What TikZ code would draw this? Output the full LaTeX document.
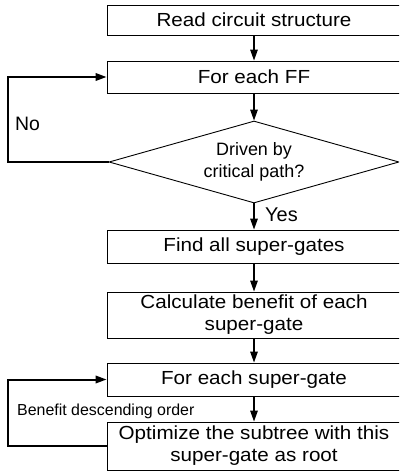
\documentclass[tikz,border=0pt]{standalone}
\usepackage{fontspec}
\setmainfont{Liberation Sans}
\newfontfamily\boxfont{Liberation Sans}[FakeStretch=1.09]
\usetikzlibrary{arrows.meta,shapes.geometric}
\begin{document}
\begin{tikzpicture}[x=1bp,y=-1bp,
  box/.style={draw, line width=0.9bp, minimum width=294bp, inner sep=0pt,
    font=\boxfont\fontsize{19}{22}\selectfont, align=center},
  conn/.style={line width=1.4bp, -{Triangle[length=11bp,width=7.5bp]}},
  loopline/.style={line width=2bp, -{Triangle[length=11bp,width=7.5bp]}},
  lbl/.style={inner sep=0pt, anchor=base west}]
\useasboundingbox (0,0) rectangle (399,471);
\clip (0,0) rectangle (399,471);
\node[box, minimum height=30bp] (b1) at (254,20) {Read circuit structure};
\node[box, minimum height=32bp] (b2) at (254,77) {For each FF};
\node[draw, diamond, line width=0.9bp, aspect=3.54, inner sep=0pt,
  minimum width=290bp, minimum height=82bp, align=center,
  font=\fontsize{18}{22}\selectfont] (d) at (254,162) {Driven by\\critical path?};
\node[box, minimum height=33bp] (b3) at (254,246.5) {Find all super-gates};
\node[box, minimum height=46bp] (b4) at (254,315) {Calculate benefit of each\\super-gate};
\node[box, minimum height=33bp] (b5) at (254,379.5) {For each super-gate};
\node[box, minimum height=48bp] (b6) at (254,446) {Optimize the subtree with this\\super-gate as root};
\draw[conn] (b1.south) -- (b2.north);
\draw[conn] (b2.south) -- (d.north);
\draw[conn] (d.south) -- (b3.north);
\draw[conn] (b3.south) -- (b4.north);
\draw[conn] (b4.south) -- (b5.north);
\draw[conn] (b5.south) -- (b6.north);
\draw[loopline] (d.west) -- ++(-101,0) |- (b2.west);
\draw[loopline] (b6.west) -- ++(-99,0) |- (b5.west);
\node[lbl, font=\fontsize{19.5}{22}\selectfont] (no) at (15,131) {No};
\node[lbl, font=\fontsize{20}{22}\selectfont] (yes) at (265,222) {Yes};
\node[lbl, font=\fontsize{16}{18}\selectfont] (order) at (17,415) {Benefit descending order};
\end{tikzpicture}
\end{document}
